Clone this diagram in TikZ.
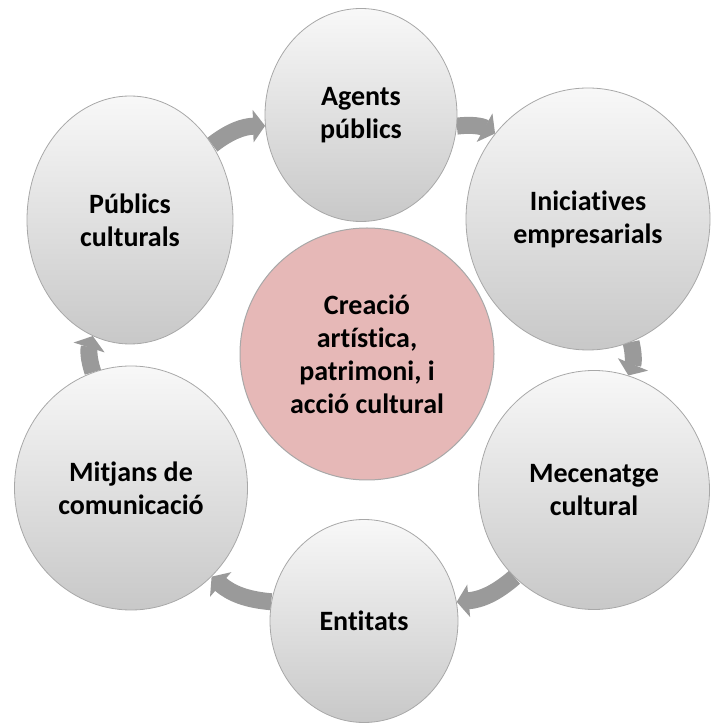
\documentclass[tikz,border=0pt]{standalone}
\usepackage{fontspec}
\setmainfont{Carlito}[Ligatures=NoCommon]
\usetikzlibrary{shapes.geometric,arrows.meta,backgrounds}
\definecolor{ringtop}{HTML}{F8F8F8}
\definecolor{ringmid}{HTML}{E8E8E8}
\definecolor{ringbot}{HTML}{C8C8C8}
\definecolor{ringedge}{HTML}{A8A8A8}
\definecolor{pinkfill}{HTML}{E6B8B7}
\definecolor{arrowgray}{HTML}{9A9A9A}
\tikzset{
  ringnode/.style={ellipse, inner sep=0pt, top color=ringtop, middle color=ringmid,
    bottom color=ringbot, draw=ringedge, line width=0.8pt, align=center,
    font=\bfseries\fontsize{28}{33}\selectfont},
  hubnode/.style={ellipse, inner sep=0pt, fill=pinkfill, draw=ringedge, line width=1pt,
    align=center, font=\bfseries\fontsize{28}{33}\selectfont},
  cyclearrow/.style={draw=arrowgray, line width=17pt,
    -{Triangle[length=12pt,width=32pt,fill=arrowgray]}}
}
\begin{document}
\begin{tikzpicture}[x=1pt,y=1pt]
\useasboundingbox (0,0) rectangle (719,726);
\node[hubnode, minimum width=254pt, minimum height=252pt] (hub) at (367,372)
  {Creació\\artística,\\patrimoni, i\\acció cultural};
\node[ringnode, minimum width=192pt, minimum height=213pt] (agents) at (361,611)
  {Agents\\públics};
\node[ringnode, minimum width=244pt, minimum height=262pt] (inic) at (588,507)
  {Iniciatives\\empresarials};
\node[ringnode, minimum width=231pt, minimum height=239pt] (mece) at (594,236)
  {Mecenatge\\cultural};
\node[ringnode, minimum width=188pt, minimum height=203pt] (entit) at (364,105)
  {Entitats};
\node[ringnode, minimum width=233pt, minimum height=244pt] (mitj) at (131,238)
  {Mitjans de\\comunicació};
\node[ringnode, minimum width=206pt, minimum height=248pt] (publ) at (130,506)
  {Públics\\culturals};
\begin{scope}[on background layer]
\draw[cyclearrow] (publ) to[bend left=18] (agents);
\draw[cyclearrow] (agents) to[bend left=18] (inic);
\draw[cyclearrow] (inic) to[bend left=18] (mece);
\draw[cyclearrow] (mece) to[bend left=18] (entit);
\draw[cyclearrow] (entit) to[bend left=18] (mitj);
\draw[cyclearrow] (mitj) to[bend left=18] (publ);
\end{scope}
\end{tikzpicture}
\end{document}
